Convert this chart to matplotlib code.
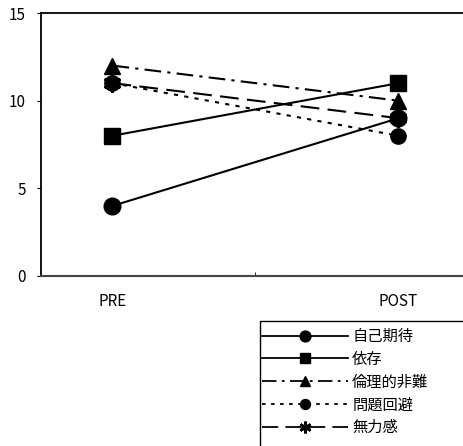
import matplotlib
matplotlib.use('Agg')
import matplotlib.pyplot as plt
from matplotlib.lines import Line2D

plt.rcParams['font.family'] = ['Noto Sans CJK JP', 'DejaVu Sans']

phases = ['PRE', 'POST']
self_expect = [4, 9]
dependence = [8, 11]
ethics_blame = [12, 10]
problem_avoid = [11, 8]
helpless = [11, 9]
names = ['自己期待', '依存', '倫理的非難', '問題回避', '無力感']

W, H = 464, 446
fig = plt.figure(figsize=(W/100, H/100), dpi=100)
ax = fig.add_axes([41/W, 1-276/H, (470-41)/W, (276-13)/H])

x = [0, 1]
styles = [
    dict(ls='-', marker='o', ms=12),
    dict(ls='-', marker='s', ms=11),
    dict(ls=(0, (8, 3, 1.5, 3)), marker='^', ms=11),
    dict(ls=(0, (2, 3)), marker='o', ms=11),
    dict(ls=(0, (9, 4)), marker=(6, 2, 0), ms=13, mew=2),
]
series = [self_expect, dependence, ethics_blame, problem_avoid, helpless]
handles = []
for y, st, nm in zip(series, styles, names):
    h, = ax.plot(x, y, color='black', lw=1.5, mfc='black', mec='black', label=nm, **st)
    handles.append(h)

ax.set_xlim(-0.25, 1.25)
ax.set_ylim(0, 15)
ax.set_yticks([0, 5, 10, 15])
ax.set_xticks(x)
ax.set_xticklabels(phases)
ax.set_xticks([0.5], minor=True)
ax.tick_params(axis='x', which='major', length=0, pad=12, labelsize=11)
ax.tick_params(axis='x', which='minor', length=3, direction='in')
ax.tick_params(axis='y', length=3, direction='out', labelsize=11, pad=8)
for s in ['left', 'top']:
    ax.spines[s].set_linewidth(1.3)
ax.spines['right'].set_visible(False)
ax.spines['bottom'].set_color('#444444')
ax.spines['bottom'].set_linestyle((0, (1, 0.5)))
ax.spines['bottom'].set_linewidth(1.5)

# legend box: only top and left edges are inside the picture
bx, by = 259.5/W, 1-320.5/H
fig.add_artist(Line2D([bx, bx, 1.1], [-0.1, by, by], transform=fig.transFigure,
                      color='black', lw=1.0))
leg = fig.legend(handles=handles, loc='upper left', bbox_to_anchor=(262/W, 1-328/H),
                 frameon=False, fontsize=11, handlelength=5.6, markerscale=0.65,
                 labelspacing=0.38, borderpad=0, borderaxespad=0, handletextpad=0.3)
for lh in leg.legend_handles:
    lh.set_linewidth(1.3)

fig.savefig('out.png', dpi=100)
